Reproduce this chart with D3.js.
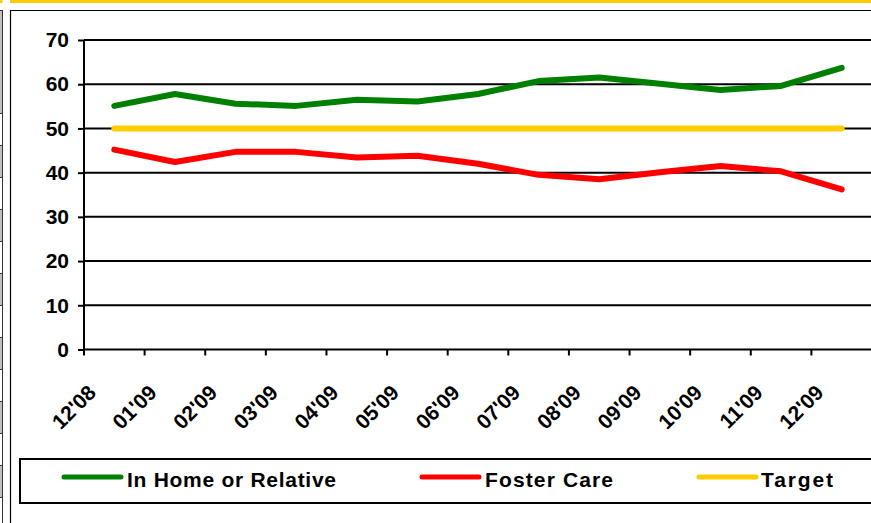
<!DOCTYPE html>
<html>
<head>
<meta charset="utf-8">
<script src="https://cdn.jsdelivr.net/npm/d3@7"></script>
<style>
  html, body { margin: 0; padding: 0; background: #fff; }
  svg { display: block; }
  text { font-family: "Liberation Sans", Arial, sans-serif; font-weight: bold; fill: #000; }
</style>
</head>
<body>
<svg id="chart" width="871" height="523"></svg>
<script>
const categories = ["12'08","01'09","02'09","03'09","04'09","05'09","06'09","07'09","08'09","09'09","10'09","11'09","12'09"];
const inHome = [55.1, 57.8, 55.6, 55.1, 56.5, 56.1, 57.8, 60.7, 61.5, 60.1, 58.7, 59.6, 63.7];
const fosterCare = [45.2, 42.4, 44.7, 44.7, 43.4, 43.8, 42.0, 39.5, 38.5, 40.1, 41.5, 40.3, 36.2];
const target = [50, 50, 50, 50, 50, 50, 50, 50, 50, 50, 50, 50, 50];
const yTicks = [0, 10, 20, 30, 40, 50, 60, 70];
const seriesNames = ["In Home or Relative", "Foster Care", "Target"];
const seriesColors = ["#008000", "#FF0000", "#FFCC00"];

const svg = d3.select("#chart");

// background decorations (spreadsheet frame)
svg.append("rect").attr("x", 0).attr("y", 0).attr("width", 2.5).attr("height", 3).attr("fill", "#FFCC00");
svg.append("rect").attr("x", 10).attr("y", 0).attr("width", 861).attr("height", 3).attr("fill", "#FFCC00");
const cellEdges = [10, 113, 145, 177, 209, 241, 273, 305, 337, 369, 401, 433, 465, 497];
const grayCells = [[10,113],[145,177],[209,241],[273,305],[337,369],[401,433],[465,497]];
grayCells.forEach(c => svg.append("rect").attr("x", 0).attr("y", c[0]).attr("width", 2.5).attr("height", c[1]-c[0]).attr("fill", "#c0c0c0"));
cellEdges.forEach(e => svg.append("line").attr("x1", 0).attr("x2", 3).attr("y1", e+0.5).attr("y2", e+0.5).attr("stroke", "#333").attr("stroke-width", 1));
svg.append("line").attr("x1", 2.5).attr("x2", 2.5).attr("y1", 10).attr("y2", 523).attr("stroke", "#333").attr("stroke-width", 1);
svg.append("line").attr("x1", 10.5).attr("x2", 10.5).attr("y1", 10).attr("y2", 523).attr("stroke", "#000").attr("stroke-width", 1.2);
svg.append("line").attr("x1", 10).attr("x2", 871).attr("y1", 10.5).attr("y2", 10.5).attr("stroke", "#000").attr("stroke-width", 1.2);

// scales
const x = d3.scaleBand().domain(categories).range([84, 872]).paddingInner(0).paddingOuter(0);
const y = d3.scaleLinear().domain([0, 70]).range([349.5, 40]);
const cx = c => x(c) + x.bandwidth() / 2;

// gridlines
svg.append("g").selectAll("line").data(yTicks.filter(v => v > 0)).join("line")
  .attr("x1", 84).attr("x2", 871)
  .attr("y1", d => y(d)).attr("y2", d => y(d))
  .attr("stroke", "#000").attr("stroke-width", 2);

// y axis
const yAxis = svg.append("g").attr("transform", "translate(84,0)")
  .call(d3.axisLeft(y).tickValues(yTicks).tickSize(6).tickPadding(9).tickFormat(d3.format("d")));
yAxis.select(".domain").attr("stroke", "#000").attr("stroke-width", 2).attr("d", `M0,${y(70)}V${y(0)+1}`);
yAxis.selectAll(".tick line").attr("stroke", "#000").attr("stroke-width", 2);
yAxis.selectAll(".tick text").style("font-size", "21px").style("font-family", "'Liberation Sans', Arial, sans-serif").style("font-weight", "bold").attr("fill", "#000");

// x axis
const xg = svg.append("g");
xg.append("line").attr("x1", 83).attr("x2", 871).attr("y1", y(0)).attr("y2", y(0)).attr("stroke", "#000").attr("stroke-width", 2);
xg.selectAll(".xt").data(categories).join("line").attr("class", "xt")
  .attr("x1", d => x(d)).attr("x2", d => x(d))
  .attr("y1", y(0)).attr("y2", y(0) + 6)
  .attr("stroke", "#000").attr("stroke-width", 2);
xg.selectAll(".xl").data(categories).join("text").attr("class", "xl")
  .attr("text-anchor", "end")
  .style("font-size", "21px")
  .attr("transform", d => `translate(${cx(d) - 17},394) rotate(-45)`)
  .text(d => d);

// lines
const line = d3.line().x((d, i) => cx(categories[i])).y(d => y(d));
[inHome, fosterCare, target].forEach((s, k) => {
  svg.append("path").datum(s)
    .attr("d", line)
    .attr("fill", "none")
    .attr("stroke", seriesColors[k])
    .attr("stroke-width", 6)
    .attr("stroke-linecap", "round")
    .attr("stroke-linejoin", "round");
});

// legend
svg.append("rect").attr("x", 20).attr("y", 459).attr("width", 860).attr("height", 44)
  .attr("fill", "#fff").attr("stroke", "#000").attr("stroke-width", 2);
const legX = [64, 422, 699];
const legTextX = [127, 485, 761];
const legW = [209, 128, 72];
seriesNames.forEach((n, k) => {
  svg.append("line").attr("x1", legX[k]).attr("x2", legX[k] + 57).attr("y1", 477).attr("y2", 477)
    .attr("stroke", seriesColors[k]).attr("stroke-width", 5).attr("stroke-linecap", "round");
  svg.append("text").attr("x", legTextX[k]).attr("y", 487)
    .style("font-size", "21px")
    .attr("textLength", legW[k]).attr("lengthAdjust", "spacing")
    .text(n);
});
</script>
</body>
</html>
